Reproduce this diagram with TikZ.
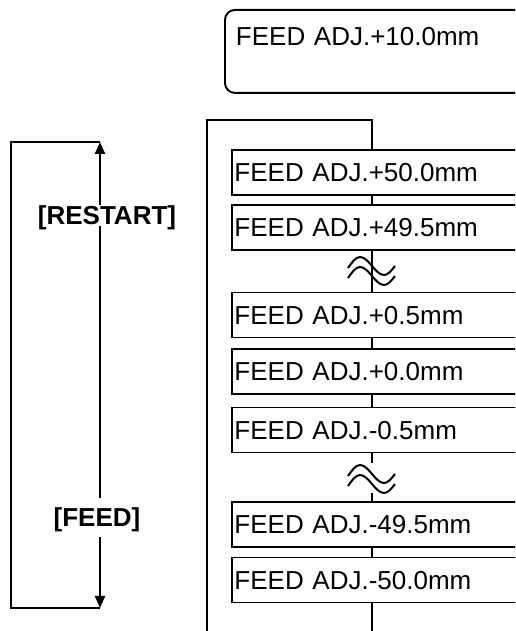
\documentclass[tikz,border=0pt]{standalone}
\usepackage{fontspec}
\setmainfont{Liberation Sans}
\usetikzlibrary{arrows.meta}
\tikzset{
  dispbox/.style={draw, line width=1.9pt, fill=white, anchor=west, text width=300pt, align=left,
    inner xsep=2.5pt, inner ysep=0pt, minimum height=45pt, text height=18.6pt,
    text depth=0pt, font=\fontsize{26}{28}\selectfont},
  topdisp/.style={draw, line width=1.9pt, rounded corners=10pt, anchor=north west, text width=300pt,
    align=left, inner xsep=11pt, inner ysep=0pt, minimum height=83pt,
    text height=18.6pt, text depth=29.6pt, font=\fontsize{26}{28}\selectfont},
  keylabel/.style={font=\bfseries\fontsize{26}{28}\selectfont, inner xsep=0pt,
    text depth=0pt, anchor=base},
  wire/.style={line width=1.9pt},
  frame/.style={line width=2.1pt},
  arr/.style={line width=2.1pt, -{Triangle[width=10pt,length=12pt]}},
  wave/.pic={
    \draw[line width=2pt] (-24,3) sin (-12,14) cos (0,5) sin (12,-4) cos (23,5);
    \draw[line width=2pt] (-24,-7) sin (-12,4) cos (0,-5) sin (12,-14) cos (23,-5);
  }
}
\begin{document}
\begin{tikzpicture}[x=1pt,y=1pt]
\clip (0,0) rectangle (515,631);
\fill[white] (0,0) rectangle (515,631);

% top display
\node[topdisp] (top) at (224,622) {FEED ADJ.+10.0mm};

% frame coordinates
\coordinate (fbl) at (207,-5);
\coordinate (ftl) at (207,511);
\coordinate (ftr) at (372,511);
\coordinate (fbr) at (372,-5);

% boxes
\node[dispbox] (b1) at (231,458.5) {FEED ADJ.+50.0mm};
\node[dispbox] (b2) at (231,403.5) {FEED ADJ.+49.5mm};
\node[dispbox] (b3) at (231,316) {FEED ADJ.+0.5mm};
\node[dispbox] (b4) at (231,259.5) {FEED ADJ.+0.0mm};
\node[dispbox] (b5) at (231,201) {FEED ADJ.-0.5mm};
\node[dispbox] (b6) at (231,106.5) {FEED ADJ.-49.5mm};
\node[dispbox] (b7) at (231,51) {FEED ADJ.-50.0mm};

\coordinate (w1) at (372,360);
\coordinate (w2) at (372,152);
\coordinate (w2t) at (372,168);
\coordinate (w2b) at (372,138);

% frame and connectors
\draw[frame] (fbl) -- (ftl) -- (ftr) -- (ftr |- b1.north);
\draw[wire] (ftr |- b1.south) -- (ftr |- b2.north);
\draw[wire] (ftr |- b2.south) -- (ftr |- b3.north);
\draw[wire] (ftr |- b3.south) -- (ftr |- b4.north);
\draw[wire] (ftr |- b4.south) -- (ftr |- b5.north);
\draw[wire] (ftr |- b5.south) -- (w2t);
\draw[wire] (w2b) -- (ftr |- b6.north);
\draw[wire] (ftr |- b6.south) -- (ftr |- b7.north);
\draw[frame] (ftr |- b7.south) -- (fbr);

\pic at (w1) {wave};
\pic at (w2) {wave};

% left key frame
\coordinate (atop) at (100,489);
\coordinate (abot) at (100,23);
\coordinate (ltl) at (11,489);
\coordinate (lbl) at (11,23);
\node[keylabel, inner ysep=1pt] (restart) at (107,406) {[RESTART]};
\node[keylabel, inner ysep=10pt] (feed) at (97,104) {[FEED]};

\draw[frame] (atop) -- (ltl) -- (lbl) -- (abot);
\draw[arr] (atop |- restart.north) -- (atop);
\draw[frame] (atop |- restart.south) -- (atop |- feed.north);
\draw[arr] (atop |- feed.south) -- (abot);
\end{tikzpicture}
\end{document}
